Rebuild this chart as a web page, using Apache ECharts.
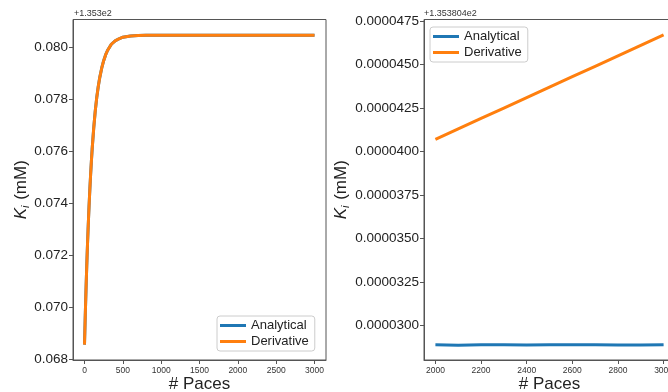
<!DOCTYPE html>
<html>
<head>
<meta charset="utf-8">
<script src="https://cdn.jsdelivr.net/npm/echarts@6/dist/echarts.min.js"></script>
<style>
  html, body { margin: 0; padding: 0; background: #fff; }
  #chart { width: 668px; height: 392px; }
</style>
</head>
<body>
<div id="chart"></div>
<script>
// left panel: values relative to offset +1.353e2
const leftPaces = [0, 10, 20, 30, 40, 50, 60, 70, 80, 90, 100, 120, 140, 160, 180, 200, 225, 250, 275, 300, 350, 400, 450, 500, 600, 700, 800, 1000, 1500, 2000, 2500, 3000]
const leftAnalytical = [0.06858, 0.06971, 0.07073, 0.07166, 0.07250, 0.07325, 0.07394, 0.07456, 0.07512, 0.07563, 0.07609, 0.07688, 0.07754, 0.07807, 0.07850, 0.07885, 0.07920, 0.07948, 0.07970, 0.07987, 0.08011, 0.08024, 0.08032, 0.08038, 0.08043, 0.08045, 0.08046, 0.08046, 0.08046, 0.08046, 0.08046, 0.08046]
const leftDerivative = [0.06858, 0.06971, 0.07073, 0.07166, 0.07250, 0.07325, 0.07394, 0.07456, 0.07512, 0.07563, 0.07609, 0.07688, 0.07754, 0.07807, 0.07850, 0.07885, 0.07920, 0.07948, 0.07970, 0.07987, 0.08011, 0.08024, 0.08032, 0.08038, 0.08043, 0.08045, 0.08046, 0.08046, 0.08046, 0.08046, 0.08046, 0.08046]
const leftXTicks = [0, 500, 1000, 1500, 2000, 2500, 3000]
const leftYTicks = [0.068, 0.070, 0.072, 0.074, 0.076, 0.078, 0.080]

// right panel: values relative to offset +1.353804e2
const rightPaces = [2000, 2100, 2200, 2300, 2400, 2500, 2600, 2700, 2800, 2900, 3000]
const rightAnalytical = [0.00002888, 0.00002886, 0.00002888, 0.00002888, 0.00002887, 0.00002889, 0.00002889, 0.00002888, 0.00002887, 0.00002887, 0.00002889]
const rightDerivative = [0.0000407, 0.0000413, 0.0000419, 0.0000425, 0.0000431, 0.0000437, 0.0000443, 0.0000449, 0.0000455, 0.0000461, 0.0000467]
const rightXTicks = [2000, 2200, 2400, 2600, 2800, 3000]
const rightYTicks = [0.00003, 0.0000325, 0.000035, 0.0000375, 0.00004, 0.0000425, 0.000045, 0.0000475]

const font = "'Liberation Sans', Arial, sans-serif"
const spine = '#555'
const blue = '#1f77b4'
const orange = '#ff7f0e'

function zip(xs, ys) {
  return xs.map((x, i) => [x, ys[i]])
}

function xAxisFor(idx, min, max, ticks) {
  return {
    type: 'value', gridIndex: idx, min: min, max: max,
    name: '# Paces', nameLocation: 'middle', nameGap: 16, nameMoveOverlap: false,
    nameTextStyle: { fontSize: 17, color: '#222', fontFamily: font },
    axisLine: { onZero: false, lineStyle: { color: spine } },
    axisTick: { show: true, length: 4, lineStyle: { color: spine }, customValues: ticks },
    axisLabel: { fontSize: 8.5, color: '#333', fontFamily: font, margin: 6, customValues: ticks, formatter: v => String(v) },
    splitLine: { show: false }
  }
}

function yAxisFor(idx, min, max, ticks, digits, gap) {
  return {
    type: 'value', gridIndex: idx, min: min, max: max,
    name: '{k|K}{s|i} (mM)', nameLocation: 'middle', nameGap: gap, nameMoveOverlap: false,
    nameTextStyle: {
      fontSize: 17, color: '#222', fontFamily: font,
      rich: {
        k: { fontSize: 17, fontStyle: 'italic', color: '#222', fontFamily: font },
        s: { fontSize: 11, fontStyle: 'italic', color: '#222', fontFamily: font, padding: [8, 1, 0, 0] }
      }
    },
    axisLine: { show: true, onZero: false, lineStyle: { color: spine } },
    axisTick: { show: true, length: 4, lineStyle: { color: spine }, customValues: ticks },
    axisLabel: {
      fontSize: 13.5, color: '#222', fontFamily: font, margin: 5, customValues: ticks,
      formatter: v => v.toFixed(digits)
    },
    splitLine: { show: false }
  }
}

function legendAt(left, top) {
  return {
    data: ['Analytical', 'Derivative'], orient: 'vertical', left: left, top: top,
    icon: 'rect', itemWidth: 26, itemHeight: 3, itemGap: 3, itemTextGap: 8,
    padding: [3, 6, 3, 3], backgroundColor: 'rgba(255,255,255,0.8)',
    borderColor: '#ccc', borderWidth: 1, borderRadius: 3,
    textStyle: { fontSize: 13, color: '#222', fontFamily: font }
  }
}

function line(name, data, color, xi, yi) {
  return {
    type: 'line', name: name, data: data, xAxisIndex: xi, yAxisIndex: yi,
    showSymbol: false, smooth: false,
    lineStyle: { color: color, width: 3 }, itemStyle: { color: color }
  }
}

const chart = echarts.init(document.getElementById('chart'))

chart.setOption({
  animation: false,
  grid: [
    { left: 73, top: 19.5, width: 253, height: 340.5, show: true, borderColor: spine, borderWidth: 1, outerBoundsMode: 'none' },
    { left: 424, top: 19.5, width: 251, height: 340.5, show: true, borderColor: spine, borderWidth: 1, outerBoundsMode: 'none' }
  ],
  xAxis: [
    xAxisFor(0, -150, 3150, leftXTicks),
    xAxisFor(1, 1950, 3050, rightXTicks)
  ],
  yAxis: [
    yAxisFor(0, 0.06799, 0.08106, leftYTicks, 3, 42),
    yAxisFor(1, 0.00002801, 0.00004759, rightYTicks, 7, 73)
  ],
  legend: [legendAt(217, 316), legendAt(430, 27)],
  graphic: [
    { type: 'text', left: 74, top: 9, style: { text: '+1.353e2', fontSize: 9, fill: '#333', fontFamily: font } },
    { type: 'text', left: 424, top: 9, style: { text: '+1.353804e2', fontSize: 9, fill: '#333', fontFamily: font } }
  ],
  series: [
    line('Analytical', zip(leftPaces, leftAnalytical), blue, 0, 0),
    line('Derivative', zip(leftPaces, leftDerivative), orange, 0, 0),
    line('Analytical', zip(rightPaces, rightAnalytical), blue, 1, 1),
    line('Derivative', zip(rightPaces, rightDerivative), orange, 1, 1)
  ]
})
</script>
</body>
</html>
